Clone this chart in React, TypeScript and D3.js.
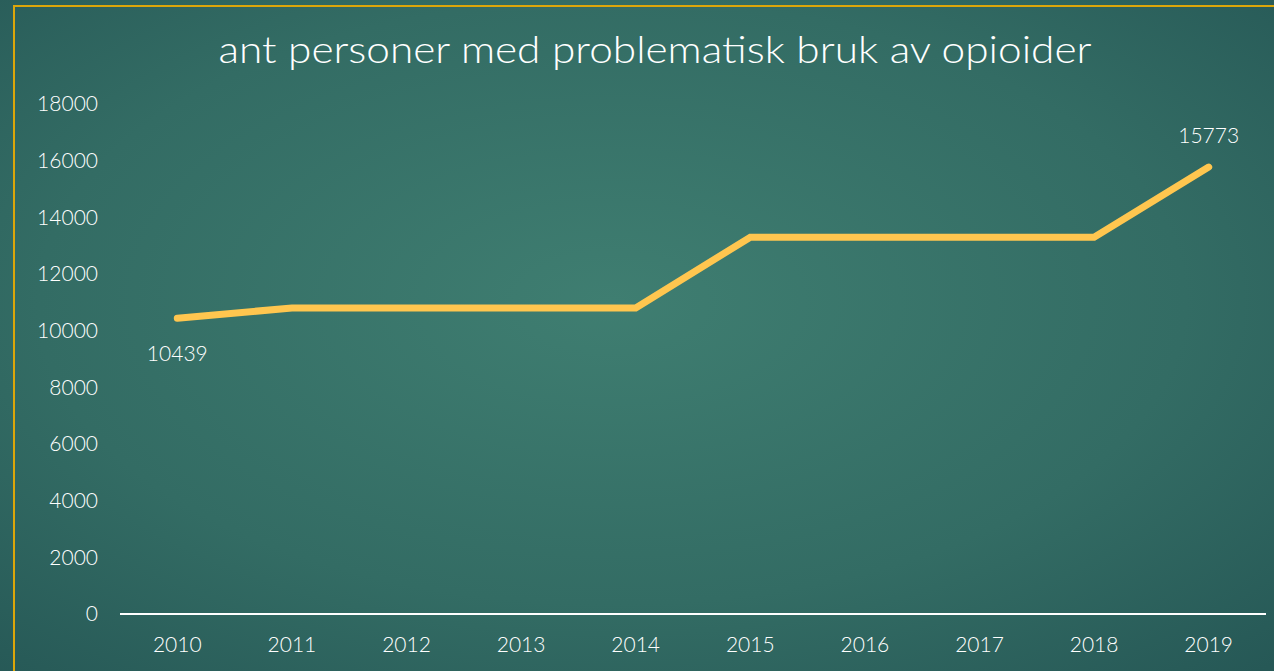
import React from "react";
import * as d3 from "d3";

const years = ["2010", "2011", "2012", "2013", "2014", "2015", "2016", "2017", "2018", "2019"];
const persons = [10439, 10800, 10800, 10800, 10800, 13300, 13300, 13300, 13300, 15773];
const yTicks = [0, 2000, 4000, 6000, 8000, 10000, 12000, 14000, 16000, 18000];
const labelledIdx = [0, 9];
const title = "ant personer med problematisk bruk av opioider";

const W = 1274;
const H = 671;
const FONT = "Lato, 'Open Sans', sans-serif";

export default function App() {
  const x = d3.scaleBand<string>().domain(years).range([120, 1266]);
  const y = d3.scaleLinear().domain([0, 18000]).range([614, 104]);
  const cx = (yr: string) => (x(yr) ?? 0) + x.bandwidth() / 2;
  const line = d3
    .line<number>()
    .x((_, i) => cx(years[i]))
    .y((d) => y(d));

  return (
    <svg
      width={W}
      height={H}
      style={{ position: "absolute", left: 0, top: 0, display: "block" }}
    >
      <defs>
        <radialGradient id="bg" cx="0.48" cy="0.45" r="0.75">
          <stop offset="0" stopColor="#3f7e71" />
          <stop offset="0.6" stopColor="#336c64" />
          <stop offset="1" stopColor="#265856" />
        </radialGradient>
      </defs>
      <rect x={0} y={0} width={W} height={H} fill="url(#bg)" />
      <rect x={14} y={6} width={W + 20} height={H + 20} fill="none" stroke="#dca60a" strokeWidth={2} />
      <text
        x={655}
        y={63}
        textAnchor="middle"
        fill="#ffffff"
        fontFamily={FONT}
        fontWeight={300}
        fontSize={38}
        textLength={873}
        lengthAdjust="spacingAndGlyphs"
      >
        {title}
      </text>
      {yTicks.map((t) => (
        <text
          key={t}
          x={98}
          y={y(t)}
          dy="0.35em"
          textAnchor="end"
          fill="#ffffff"
          fontFamily={FONT}
          fontWeight={300}
          fontSize={21}
        >
          {t}
        </text>
      ))}
      <line x1={120} x2={1266} y1={y(0)} y2={y(0)} stroke="#ffffff" strokeWidth={2} />
      {years.map((yr) => (
        <text
          key={yr}
          x={cx(yr)}
          y={645}
          dy="0.35em"
          textAnchor="middle"
          fill="#ffffff"
          fontFamily={FONT}
          fontWeight={300}
          fontSize={21}
        >
          {yr}
        </text>
      ))}
      <path
        d={line(persons) ?? ""}
        fill="none"
        stroke="#ffc64f"
        strokeWidth={7}
        strokeLinecap="round"
        strokeLinejoin="miter"
      />
      {labelledIdx.map((i) => (
        <text
          key={i}
          x={cx(years[i])}
          y={y(persons[i]) + (i === 0 ? 35 : -31)}
          dy="0.35em"
          textAnchor="middle"
          fill="#ffffff"
          fontFamily={FONT}
          fontWeight={300}
          fontSize={21}
        >
          {persons[i]}
        </text>
      ))}
    </svg>
  );
}
